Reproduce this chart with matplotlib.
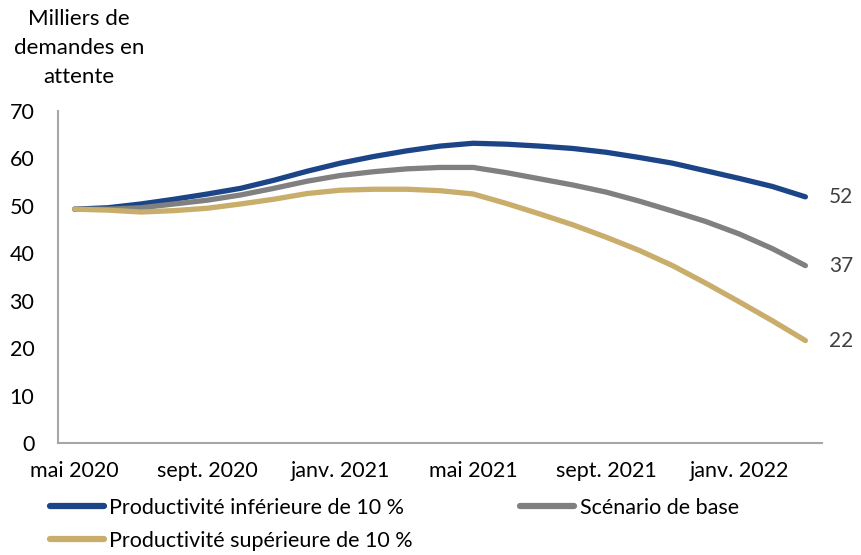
import matplotlib.pyplot as plt
from matplotlib.lines import Line2D

# mois de mai 2020 à mars 2022
mois = ['mai 2020', 'juin 2020', 'juil. 2020', 'août 2020', 'sept. 2020', 'oct. 2020',
        'nov. 2020', 'déc. 2020', 'janv. 2021', 'févr. 2021', 'mars 2021', 'avr. 2021',
        'mai 2021', 'juin 2021', 'juil. 2021', 'août 2021', 'sept. 2021', 'oct. 2021',
        'nov. 2021', 'déc. 2021', 'janv. 2022', 'févr. 2022', 'mars 2022']

prod_inf = [49.3, 49.6, 50.4, 51.4, 52.5, 53.7, 55.4, 57.3, 59.0, 60.4, 61.6, 62.6,
            63.2, 63.0, 62.6, 62.1, 61.3, 60.2, 59.0, 57.4, 55.8, 54.1, 51.9]
base = [49.3, 49.3, 49.6, 50.4, 51.2, 52.3, 53.7, 55.2, 56.4, 57.2, 57.8, 58.1,
        58.1, 57.0, 55.7, 54.4, 52.9, 51.0, 48.9, 46.7, 44.1, 41.0, 37.4]
prod_sup = [49.3, 49.1, 48.7, 49.0, 49.5, 50.4, 51.4, 52.6, 53.3, 53.5, 53.5, 53.2,
            52.5, 50.5, 48.3, 46.0, 43.4, 40.6, 37.4, 33.7, 29.8, 25.8, 21.6]

tick_idx = [0, 4, 8, 12, 16, 20]

noms = ['Productivité inférieure de 10 %', 'Scénario de base', 'Productivité supérieure de 10 %']
couleurs = ['#1c4587', '#808080', '#c8ad6b']

plt.rcParams['font.family'] = ['Lato', 'DejaVu Sans']

fig = plt.figure(figsize=(8.62, 5.55), dpi=100)
ax = fig.add_axes([58/862, 1 - 443/555, (822 - 58)/862, (443 - 111)/555])

x = list(range(len(mois)))
for serie, c in zip([prod_inf, base, prod_sup], couleurs):
    ax.plot(x, serie, color=c, lw=3.8, solid_capstyle='round', solid_joinstyle='round')
    ax.annotate(f'{round(serie[-1])}', xy=(x[-1], serie[-1]), xytext=(17, 0),
                textcoords='offset points', va='center', ha='left',
                fontsize=15, color='#404040')

ax.set_xlim(-0.5, len(mois) - 0.5)
ax.set_ylim(0, 70)
ax.set_yticks(range(0, 71, 10))
ax.set_xticks(tick_idx)
ax.set_xticklabels([mois[i] for i in tick_idx])
ax.tick_params(axis='both', length=0, labelsize=15.5, colors='#000000')
ax.tick_params(axis='y', pad=17)
ax.tick_params(axis='x', pad=13)

for s in ['top', 'right']:
    ax.spines[s].set_visible(False)
for s in ['left', 'bottom']:
    ax.spines[s].set_color('#a6a6a6')
    ax.spines[s].set_linewidth(1.5)

fig.text(79/862, 1 - 9/555, 'Milliers de\ndemandes en\nattente', ha='center', va='top',
         fontsize=16, linespacing=1.55)

handles = [Line2D([], [], color=c, lw=4.5, solid_capstyle='round') for c in couleurs]
# ordre pour remplir les colonnes : bleu, or | gris
leg = fig.legend([handles[0], handles[2], handles[1]], [noms[0], noms[2], noms[1]],
                 ncol=2, loc='upper left', bbox_to_anchor=(50/862, 1 - 498/555),
                 frameon=False, fontsize=15.5, handlelength=2.5, handletextpad=0.25,
                 columnspacing=5.0, labelspacing=0.6, borderaxespad=0, borderpad=0)

fig.savefig('out.png', dpi=100)
